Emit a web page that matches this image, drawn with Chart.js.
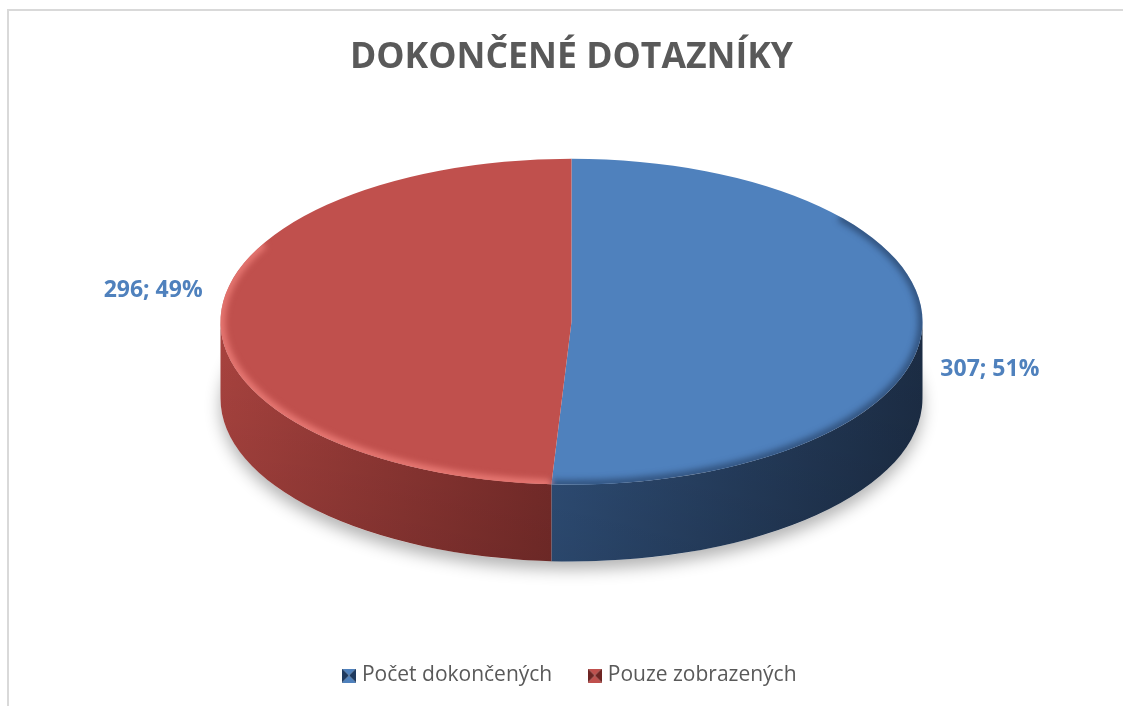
<!DOCTYPE html>
<html lang="cs">
<head>
<meta charset="utf-8">
<title>Dokončené dotazníky</title>
<script src="https://cdn.jsdelivr.net/npm/chart.js@4.4.1/dist/chart.umd.min.js"></script>
<style>
  html, body { margin: 0; padding: 0; background: #fff; overflow: hidden; }
  #chart { display: block; }
</style>
</head>
<body>
<canvas id="chart" width="1123" height="706"></canvas>
<script>
const chartTitle = 'DOKONČENÉ DOTAZNÍKY';
const categories = ['Počet dokončených', 'Pouze zobrazených'];
const counts = [307, 296];

const topColors = ['#4f81bd', '#c0504d'];
// side wall colours, [at start of visible span, at end of visible span]
const sideColors = [['#1c2d45', '#30507a'], ['#7a2d2b', '#a9433f']];
const rimColors = ['rgba(30,52,85,0.6)', 'rgba(236,125,120,0.9)'];

// part of a slice that falls between angles lo..hi
function spans(start, end, lo, hi) {
  const out = [];
  for (let k = -1; k <= 1; k++) {
    const off = k * 2 * Math.PI;
    const a = Math.max(start, lo + off), b = Math.min(end, hi + off);
    if (b > a) out.push([a - off, b - off]);
  }
  return out;
}

// small bevelled square used as legend marker
function makeMarker(base, dark) {
  const c = document.createElement('canvas');
  c.width = 14; c.height = 14;
  const g = c.getContext('2d');
  const tri = (pts, col) => {
    g.beginPath();
    g.moveTo(pts[0], pts[1]); g.lineTo(pts[2], pts[3]); g.lineTo(7, 7);
    g.closePath(); g.fillStyle = col; g.fill();
  };
  tri([0, 0, 14, 0], base);
  tri([0, 14, 14, 14], base);
  tri([0, 0, 0, 14], dark);
  tri([14, 0, 14, 14], dark);
  return c;
}
const markers = [makeMarker('#4f81bd', '#1f3a5f'), makeMarker('#c0504d', '#6e2523')];

// white background and the chart frame (left and top edges only show)
const frame = {
  id: 'frame',
  beforeDraw(chart) {
    const ctx = chart.ctx;
    ctx.save();
    ctx.fillStyle = '#fff';
    ctx.fillRect(0, 0, chart.width, chart.height);
    ctx.strokeStyle = '#d9d9d9';
    ctx.lineWidth = 2;
    ctx.beginPath();
    ctx.moveTo(8, chart.height);
    ctx.lineTo(8, 10);
    ctx.lineTo(chart.width, 10);
    ctx.stroke();
    ctx.restore();
  }
};

const pie3d = {
  id: 'pie3d',
  beforeDatasetsDraw(chart, args, opts) {
    const ctx = chart.ctx;
    const arcs = chart.getDatasetMeta(0).data;
    const {x: cx, y: cy, outerRadius: r} = arcs[0];
    const ry = r * opts.tilt;
    const depth = r * opts.depth;

    // soft shadow under the disc
    ctx.save();
    ctx.shadowColor = 'rgba(0,0,0,0.3)';
    ctx.shadowBlur = 16;
    ctx.shadowOffsetY = 8;
    ctx.fillStyle = '#fff';
    ctx.beginPath();
    ctx.ellipse(cx, cy + depth, r, ry, 0, 0, Math.PI * 2);
    ctx.fill();
    ctx.restore();

    // side walls
    arcs.forEach((arc, i) => {
      spans(arc.startAngle, arc.endAngle, 0, Math.PI).forEach(([a0, a1]) => {
        const g = ctx.createLinearGradient(cx + r * Math.cos(a0), 0, cx + r * Math.cos(a1), 0);
        g.addColorStop(0, sideColors[i][0]);
        g.addColorStop(1, sideColors[i][1]);
        ctx.beginPath();
        ctx.ellipse(cx, cy, r, ry, 0, a0, a1);
        ctx.ellipse(cx, cy + depth, r, ry, 0, a1, a0, true);
        ctx.closePath();
        ctx.fillStyle = g;
        ctx.fill();
        const v = ctx.createLinearGradient(0, cy, 0, cy + ry + depth);
        v.addColorStop(0, 'rgba(0,0,0,0)');
        v.addColorStop(1, 'rgba(0,0,0,0.12)');
        ctx.fillStyle = v;
        ctx.fill();
      });
    });

    // squash the pie into the top face
    ctx.save();
    ctx.translate(cx, cy);
    ctx.scale(1, opts.tilt);
    ctx.translate(-cx, -cy);
  },
  afterDatasetsDraw(chart, args, opts) {
    const ctx = chart.ctx;
    ctx.restore();
    const arcs = chart.getDatasetMeta(0).data;
    const {x: cx, y: cy, outerRadius: r} = arcs[0];
    const ry = r * opts.tilt;

    // bevel along the front rim
    ctx.save();
    ctx.beginPath();
    ctx.ellipse(cx, cy, r, ry, 0, 0, Math.PI * 2);
    ctx.clip();
    ctx.filter = 'blur(3px)';
    arcs.forEach((arc, i) => {
      spans(arc.startAngle, arc.endAngle, -0.7, Math.PI + 0.5).forEach(([a0, a1]) => {
        ctx.beginPath();
        ctx.ellipse(cx, cy, r, ry, 0, a0, a1);
        ctx.strokeStyle = rimColors[i];
        ctx.lineWidth = 9;
        ctx.stroke();
      });
    });
    ctx.restore();

    // value; percent labels
    const data = chart.data.datasets[0].data;
    const total = data.reduce((a, b) => a + b, 0);
    ctx.save();
    ctx.font = 'bold 23px "Open Sans"';
    ctx.fillStyle = opts.labelColor;
    ctx.textBaseline = 'middle';
    arcs.forEach((arc, i) => {
      const mid = (arc.startAngle + arc.endAngle) / 2;
      const px = cx + r * Math.cos(mid);
      const py = cy + ry * Math.sin(mid);
      const off = opts.labelOffsets[i];
      ctx.textAlign = Math.cos(mid) >= 0 ? 'left' : 'right';
      ctx.fillText(data[i] + '; ' + Math.round(data[i] / total * 100) + '%', px + off[0], py + off[1]);
    });
    ctx.restore();
  }
};

new Chart(document.getElementById('chart'), {
  type: 'pie',
  data: {
    labels: categories,
    datasets: [{
      data: counts,
      backgroundColor: topColors,
      borderWidth: 0,
      radius: 351,
      clip: false
    }]
  },
  plugins: [frame, pie3d],
  options: {
    responsive: false,
    animation: false,
    events: [],
    layout: { padding: { left: 20, top: 0, right: 0, bottom: 10 } },
    plugins: {
      pie3d: {
        tilt: 0.464,
        depth: 0.219,
        labelColor: '#4f81bd',
        labelOffsets: [[18, 43], [-18, -27]]
      },
      title: {
        display: true,
        text: chartTitle,
        color: '#595959',
        font: { family: 'Open Sans', size: 35.6, weight: 'bold', lineHeight: 1.2 },
        padding: { top: 36, bottom: 0 }
      },
      legend: {
        position: 'bottom',
        title: { display: true, text: '', padding: { top: 0, bottom: 46 } },
        labels: {
          color: '#595959',
          font: { family: 'Open Sans', size: 21 },
          usePointStyle: true,
          boxWidth: 5,
          padding: 40,
          generateLabels(chart) {
            const items = Chart.overrides.doughnut.plugins.legend.labels.generateLabels(chart);
            items.forEach((it, i) => { it.pointStyle = markers[i]; });
            return items;
          }
        }
      },
      tooltip: { enabled: false }
    }
  }
});
</script>
</body>
</html>
